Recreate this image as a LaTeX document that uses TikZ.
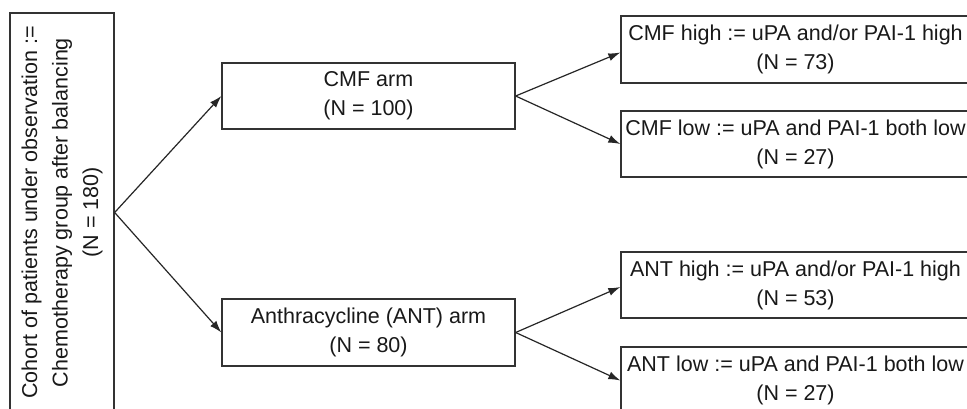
\documentclass[tikz,border=0pt]{standalone}
\usepackage{fontspec}
\setmainfont{Liberation Sans}
\usetikzlibrary{arrows.meta}
\tikzset{
  box/.style={draw=black!80, line width=1.3pt, inner sep=0pt, align=center,
    font=\fontsize{21.5}{29}\selectfont, text=black!90},
  conn/.style={draw=black!85, line width=1.2pt, -{Latex[length=12pt,width=8pt]}}
}
\begin{document}
\begin{tikzpicture}[x=1pt,y=-1pt]
\useasboundingbox (0,0) rectangle (967,409);
\fill[white] (0,0) rectangle (967,409);
\clip (0,0) rectangle (967,409);
\node[box, rotate=90, minimum width=399pt, minimum height=104pt,
      font=\fontsize{21.5}{30.5}\selectfont] (cohort) at (62,212.5)
  {Cohort of patients under observation :=\\Chemotherapy group after balancing\\(N = 180)};
\node[box, minimum width=293pt, minimum height=66pt] (cmf) at (368.5,96) {CMF arm\\(N = 100)};
\node[box, minimum width=293pt, minimum height=67pt] (ant) at (368.5,332.5) {Anthracycline (ANT) arm\\(N = 80)};
\node[box, minimum width=349pt, minimum height=67pt] (cmfhigh) at (795.5,49.5) {CMF high := uPA and/or PAI-1 high\\(N = 73)};
\node[box, minimum width=349pt, minimum height=66pt] (cmflow) at (795.5,144) {CMF low := uPA and PAI-1 both low\\(N = 27)};
\node[box, minimum width=349pt, minimum height=66pt] (anthigh) at (795.5,285) {ANT high := uPA and/or PAI-1 high\\(N = 53)};
\node[box, minimum width=349pt, minimum height=67pt] (antlow) at (795.5,380.5) {ANT low := uPA and PAI-1 both low\\(N = 27)};
\draw[conn] (cohort.south) -- (cmf.west);
\draw[conn] (cohort.south) -- (ant.west);
\draw[conn] (cmf.east) -- ([yshift=-3pt]cmfhigh.west);
\draw[conn] (cmf.east) -- (cmflow.west);
\draw[conn] (ant.east) -- ([yshift=-2pt]anthigh.west);
\draw[conn] (ant.east) -- (antlow.west);
\end{tikzpicture}
\end{document}
